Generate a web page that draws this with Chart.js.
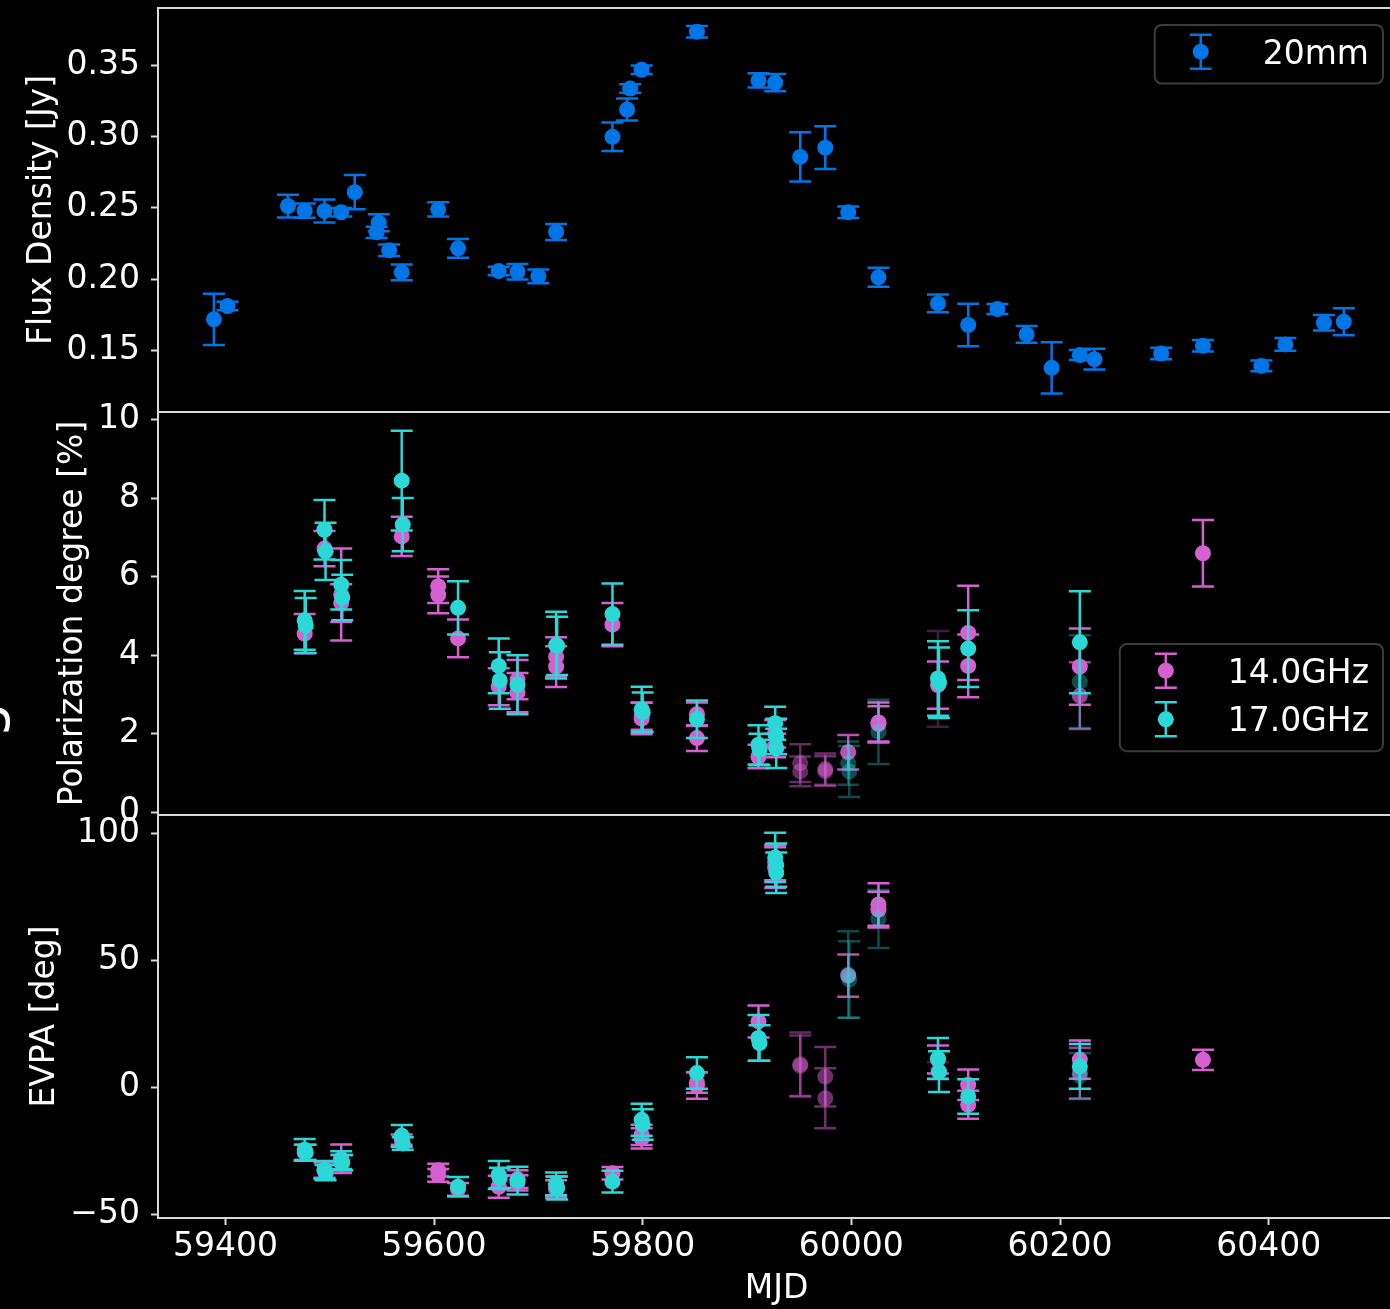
<!DOCTYPE html>
<html>
<head>
<meta charset="utf-8">
<script src="https://cdn.jsdelivr.net/npm/chart.js@4/dist/chart.umd.min.js"></script>
<style>
html, body { margin: 0; padding: 0; background: #000; overflow: hidden; }
#wrap { position: relative; width: 1390px; height: 1309px; }
canvas { position: absolute; left: 0; top: 0; }
</style>
</head>
<body>
<div id="wrap">
<canvas id="fluxChart" width="1400" height="1309"></canvas>
<canvas id="polChart" width="1400" height="1309"></canvas>
<canvas id="evpaChart" width="1400" height="1309"></canvas>
</div>
<script>
var xTicks = [59400, 59600, 59800, 60000, 60200, 60400];
var fluxTicks = [0.15, 0.20, 0.25, 0.30, 0.35];
var polTicks = [0, 2, 4, 6, 8, 10];
var evpaTicks = [-50, 0, 50, 100];

// 20mm flux density
var fluxMjd = [59389, 59402, 59460, 59476, 59495, 59511, 59524, 59547, 59545, 59557, 59569, 59604, 59623, 59662, 59680, 59700, 59717, 59771, 59785, 59788, 59799, 59852, 59911, 59927, 59951, 59975, 59997, 60026, 60083, 60112, 60140, 60168, 60192, 60219, 60233, 60297, 60337, 60393, 60416, 60453, 60472];
var fluxVal = [0.1717, 0.1810, 0.2513, 0.2480, 0.2478, 0.2469, 0.2610, 0.2396, 0.2328, 0.2202, 0.2047, 0.2490, 0.2216, 0.2056, 0.2051, 0.2019, 0.2331, 0.2999, 0.3191, 0.3338, 0.3470, 0.3737, 0.3395, 0.3380, 0.2858, 0.2923, 0.2469, 0.2012, 0.1829, 0.1677, 0.1789, 0.1611, 0.1376, 0.1466, 0.1437, 0.1477, 0.1531, 0.1390, 0.1541, 0.1693, 0.1700];
var fluxErr = [0.018, 0.003, 0.008, 0.005, 0.008, 0.003, 0.012, 0.006, 0.004, 0.004, 0.0055, 0.005, 0.0066, 0.003, 0.0054, 0.0048, 0.0056, 0.010, 0.0077, 0.003, 0.003, 0.004, 0.005, 0.006, 0.0173, 0.015, 0.004, 0.0067, 0.0063, 0.015, 0.0035, 0.0059, 0.018, 0.0035, 0.0073, 0.004, 0.004, 0.0037, 0.0045, 0.0054, 0.0094];

// 14.0 GHz
var mjd14 = [59476, 59495, 59511, 59511, 59569, 59604, 59604, 59623, 59662, 59680, 59680, 59717, 59717, 59771, 59799, 59799, 59852, 59852, 59911, 59927, 59927, 59951, 59951, 59975, 59975, 59997, 60026, 60026, 60083, 60083, 60112, 60112, 60219, 60219, 60337];
var pol14 = [4.55, 6.72, 5.55, 5.33, 7.03, 5.76, 5.54, 4.43, 3.20, 3.38, 3.05, 3.96, 3.71, 4.78, 2.39, 2.45, 2.50, 1.89, 1.42, 2.00, 1.70, 1.25, 1.04, 1.10, 1.05, 1.53, 2.29, 2.25, 3.24, 3.40, 4.57, 3.73, 3.71, 2.97, 6.60];
var polErr14 = [0.50, 0.45, 1.17, 0.48, 0.50, 0.43, 0.47, 0.48, 0.47, 0.50, 0.50, 0.50, 0.52, 0.55, 0.40, 0.35, 0.30, 0.33, 0.30, 0.35, 0.30, 0.48, 0.38, 0.40, 0.38, 0.44, 0.51, 0.45, 0.60, 1.22, 1.20, 0.80, 0.97, 0.85, 0.85];
var evpa14 = [-25.5, -32.5, -28, -29.5, -20.5, -32.5, -34.5, -40, -39, -36, -37.5, -39, -40, -33.7, -18.6, -20, 0.8, 2, 26, 88.5, 86.5, 9.2, 8.5, 4.3, -4.2, 44, 72, 70, 11, 6.5, 1.1, -6.8, 11, 5.7, 10.9];
var evpaErr14 = [3, 3, 5.6, 3, 2, 2.5, 2.5, 2.5, 4.3, 3.5, 3, 4, 3.5, 2.5, 4, 4, 5.2, 4, 6.3, 7, 8, 12.5, 12, 11.7, 11.8, 8.3, 8.4, 7, 5.5, 3.5, 6, 5.5, 7.5, 10, 4];
var alpha14 = [1, 1, 1, 1, 1, 1, 1, 1, 1, 1, 1, 1, 1, 1, 1, 1, 1, 1, 1, 1, 1, 0.45, 0.45, 0.5, 0.5, 0.85, 1, 1, 1, 0.3, 1, 1, 1, 0.7, 1];

// 17.0 GHz
var mjd17 = [59476, 59477, 59495, 59496, 59511, 59512, 59569, 59570, 59623, 59662, 59663, 59680, 59717, 59718, 59771, 59799, 59800, 59852, 59911, 59912, 59927, 59928, 59928, 59997, 59998, 60026, 60083, 60084, 60112, 60219, 60219];
var pol17 = [4.89, 4.76, 7.20, 6.65, 5.80, 5.47, 8.45, 7.33, 5.21, 3.73, 3.36, 3.25, 4.26, 4.24, 5.05, 2.62, 2.55, 2.37, 1.72, 1.60, 2.27, 1.93, 1.63, 1.25, 1.04, 2.05, 3.41, 3.30, 4.17, 4.33, 3.33];
var polErr17 = [0.75, 0.70, 0.76, 0.73, 0.63, 0.58, 1.27, 0.68, 0.68, 0.70, 0.72, 0.75, 0.85, 0.74, 0.78, 0.58, 0.50, 0.48, 0.50, 0.40, 0.42, 0.45, 0.50, 0.55, 0.65, 0.82, 0.95, 0.90, 0.98, 1.30, 1.18];
var evpa17 = [-24.5, -25.5, -32.4, -33.5, -28.5, -29.5, -19, -22, -39, -34.4, -35.5, -36.6, -37.9, -39.5, -37, -12.7, -14.5, 5.7, 19.5, 17.5, 90.5, 87.5, 84.5, 44.5, 42.5, 66.3, 11.5, 6.3, -3.5, 8.3, 4.5];
var evpaErr17 = [4.3, 3, 3.5, 3, 3.5, 3, 4.3, 2.5, 3.8, 5.5, 4, 5.5, 4.5, 4.5, 4.3, 6.3, 6, 6.2, 9, 7, 9.7, 8.5, 8, 17, 15, 11.4, 8, 8, 6.8, 8.8, 9];
var alpha17 = [1, 1, 1, 1, 1, 1, 1, 1, 1, 1, 1, 1, 1, 1, 1, 1, 1, 1, 1, 1, 1, 1, 1, 0.35, 0.35, 0.35, 1, 1, 1, 1, 0.35];

var BLUE = "0,117,230";
var MAGENTA = "214,96,210";
var CYAN = "44,216,214";
var FONT = "DejaVu Sans";

function rgba(rgb, a) {
    return "rgba(" + rgb + "," + a + ")";
}

// order: higher numbers are painted first, so 17 GHz ends up on top
function series(label, rgb, xs, ys, errs, alphas, order) {
    return {
        label: label,
        rgb: rgb,
        errors: errs,
        alphas: alphas,
        order: order || 0,
        data: xs.map(function (x, i) { return { x: x, y: ys[i] }; }),
        pointRadius: 8,
        pointBorderWidth: 0,
        pointBackgroundColor: function (c) { return rgba(rgb, alphas[c.dataIndex]); },
        showLine: false
    };
}

function ones(n) {
    return Array.apply(null, Array(n)).map(function () { return 1; });
}

// vertical error bars with caps, drawn under each dataset's markers
var errorBars = {
    id: "errorBars",
    beforeDatasetDraw: function (chart, args) {
        var ds = chart.data.datasets[args.index];
        var xs = chart.scales.x, ys = chart.scales.y, ctx = chart.ctx;
        ctx.save();
        ctx.lineWidth = 2.5;
        ds.data.forEach(function (p, i) {
            var x = xs.getPixelForValue(p.x);
            var lo = ys.getPixelForValue(p.y - ds.errors[i]);
            var hi = ys.getPixelForValue(p.y + ds.errors[i]);
            ctx.strokeStyle = rgba(ds.rgb, ds.alphas[i]);
            ctx.beginPath();
            ctx.moveTo(x, lo); ctx.lineTo(x, hi);
            ctx.moveTo(x - 11, lo); ctx.lineTo(x + 11, lo);
            ctx.moveTo(x - 11, hi); ctx.lineTo(x + 11, hi);
            ctx.stroke();
        });
        ctx.restore();
    }
};

var frame = {
    id: "frame",
    afterDatasetsDraw: function (chart) {
        var a = chart.chartArea, ctx = chart.ctx;
        ctx.save();
        ctx.strokeStyle = "#d9d9d9";
        ctx.lineWidth = 2;
        ctx.strokeRect(a.left, a.top, a.right - a.left, a.bottom - a.top);
        ctx.restore();
    }
};

var panelLegend = {
    id: "panelLegend",
    afterDraw: function (chart, args, opts) {
        if (!opts || opts.top === undefined) return;
        var ctx = chart.ctx, a = chart.chartArea;
        var items = chart.data.datasets;
        ctx.save();
        ctx.font = "33px '" + FONT + "'";
        var tw = Math.max.apply(null, items.map(function (d) { return ctx.measureText(d.label).width; }));
        var w = 46 + 62 + tw + 14, h = 10 + items.length * 48.6;
        var right = a.right - 12, left = right - w, top = a.top + opts.top, r = 7;
        ctx.beginPath();
        ctx.moveTo(left + r, top);
        ctx.arcTo(right, top, right, top + h, r);
        ctx.arcTo(right, top + h, left, top + h, r);
        ctx.arcTo(left, top + h, left, top, r);
        ctx.arcTo(left, top, right, top, r);
        ctx.closePath();
        ctx.fillStyle = "rgba(0,0,0,0.8)";
        ctx.fill();
        ctx.strokeStyle = "#3c3c3c";
        ctx.lineWidth = 2;
        ctx.stroke();
        ctx.lineWidth = 2.5;
        items.forEach(function (d, i) {
            var cx = left + 46, cy = top + 26.7 + i * 48.6;
            ctx.strokeStyle = rgba(d.rgb, 1);
            ctx.beginPath();
            ctx.moveTo(cx, cy - 17); ctx.lineTo(cx, cy + 17);
            ctx.moveTo(cx - 11, cy - 17); ctx.lineTo(cx + 11, cy - 17);
            ctx.moveTo(cx - 11, cy + 17); ctx.lineTo(cx + 11, cy + 17);
            ctx.stroke();
            ctx.fillStyle = rgba(d.rgb, 1);
            ctx.beginPath();
            ctx.arc(cx, cy, 8, 0, Math.PI * 2);
            ctx.fill();
            ctx.fillStyle = "#ffffff";
            ctx.textBaseline = "alphabetic";
            ctx.fillText(d.label, cx + 62, cy + 12);
        });
        ctx.restore();
    }
};

// cut-off letter at the far left edge of the figure
var edgeLetter = {
    id: "edgeLetter",
    afterDraw: function (chart) {
        var ctx = chart.ctx;
        ctx.save();
        ctx.translate(-2, 720);
        ctx.rotate(-Math.PI / 2);
        ctx.font = "58px '" + FONT + "'";
        ctx.fillStyle = "#ffffff";
        ctx.textAlign = "center";
        ctx.textBaseline = "alphabetic";
        ctx.fillText("g", 0, 0);
        ctx.restore();
    }
};

function panel(id, p) {
    var tickFont = { family: FONT, size: 33 };
    new Chart(id, {
        type: "scatter",
        data: { datasets: p.datasets },
        plugins: [errorBars, frame, panelLegend].concat(p.extra || []),
        options: {
            responsive: false,
            animation: false,
            events: [],
            layout: {
                autoPadding: false,
                padding: { left: 0, right: 5, top: p.top, bottom: p.showX ? 0 : 1309 - p.bottom }
            },
            plugins: {
                legend: { display: false },
                tooltip: { enabled: false },
                panelLegend: p.legend
            },
            scales: {
                x: {
                    type: "linear",
                    display: p.showX,
                    min: 59335.4,
                    max: 60521.1,
                    afterBuildTicks: function (s) { s.ticks = xTicks.map(function (v) { return { value: v }; }); },
                    afterFit: function (s) {
                        s.height = p.showX ? 1309 - p.bottom : 0;
                        s.paddingLeft = 0; s.paddingRight = 0;
                    },
                    ticks: { color: "#ffffff", font: tickFont, padding: 3, maxRotation: 0, callback: function (v) { return String(v); } },
                    grid: { drawOnChartArea: false, tickLength: 7, tickWidth: 2, tickColor: "#d9d9d9" },
                    border: { display: false },
                    title: { display: true, text: "MJD", color: "#ffffff", font: tickFont, padding: { top: 0, bottom: 0 } }
                },
                y: {
                    type: "linear",
                    min: p.yMin,
                    max: p.yMax,
                    afterBuildTicks: function (s) { s.ticks = p.yTicks.map(function (v) { return { value: v }; }); },
                    afterFit: function (s) {
                        s.width = 158;
                        s.paddingTop = 0; s.paddingBottom = 0;
                    },
                    ticks: { color: "#ffffff", font: tickFont, padding: 11, callback: p.fmt },
                    grid: { drawOnChartArea: false, tickLength: 7, tickWidth: 2, tickColor: "#d9d9d9" },
                    border: { display: false },
                    title: { display: true, text: p.title, color: "#ffffff", font: tickFont, padding: { top: p.titlePad, bottom: 0 } }
                }
            }
        }
    });
}

panel("fluxChart", {
    top: 8, bottom: 412, showX: false,
    yMin: 0.1066, yMax: 0.3904, yTicks: fluxTicks,
    fmt: function (v) { return v.toFixed(2); },
    title: "Flux Density [Jy]", titlePad: 23,
    legend: { top: 17 },
    datasets: [series("20mm", BLUE, fluxMjd, fluxVal, fluxErr, ones(fluxMjd.length))]
});

panel("polChart", {
    top: 412, bottom: 815, showX: false,
    yMin: -0.07, yMax: 10.2, yTicks: polTicks,
    fmt: function (v) { return String(v); },
    title: "Polarization degree [%]", titlePad: 54,
    legend: { top: 232 },
    extra: [edgeLetter],
    datasets: [
        series("14.0GHz", MAGENTA, mjd14, pol14, polErr14, alpha14, 1),
        series("17.0GHz", CYAN, mjd17, pol17, polErr17, alpha17, 0)
    ]
});

panel("evpaChart", {
    top: 815, bottom: 1218, showX: true,
    yMin: -51.3, yMax: 107.2, yTicks: evpaTicks,
    fmt: function (v) { return String(v).replace("-", "\u2212"); },
    title: "EVPA [deg]", titlePad: 26,
    legend: {},
    datasets: [
        series("14.0GHz", MAGENTA, mjd14, evpa14, evpaErr14, alpha14, 1),
        series("17.0GHz", CYAN, mjd17, evpa17, evpaErr17, alpha17, 0)
    ]
});
</script>
</body>
</html>
